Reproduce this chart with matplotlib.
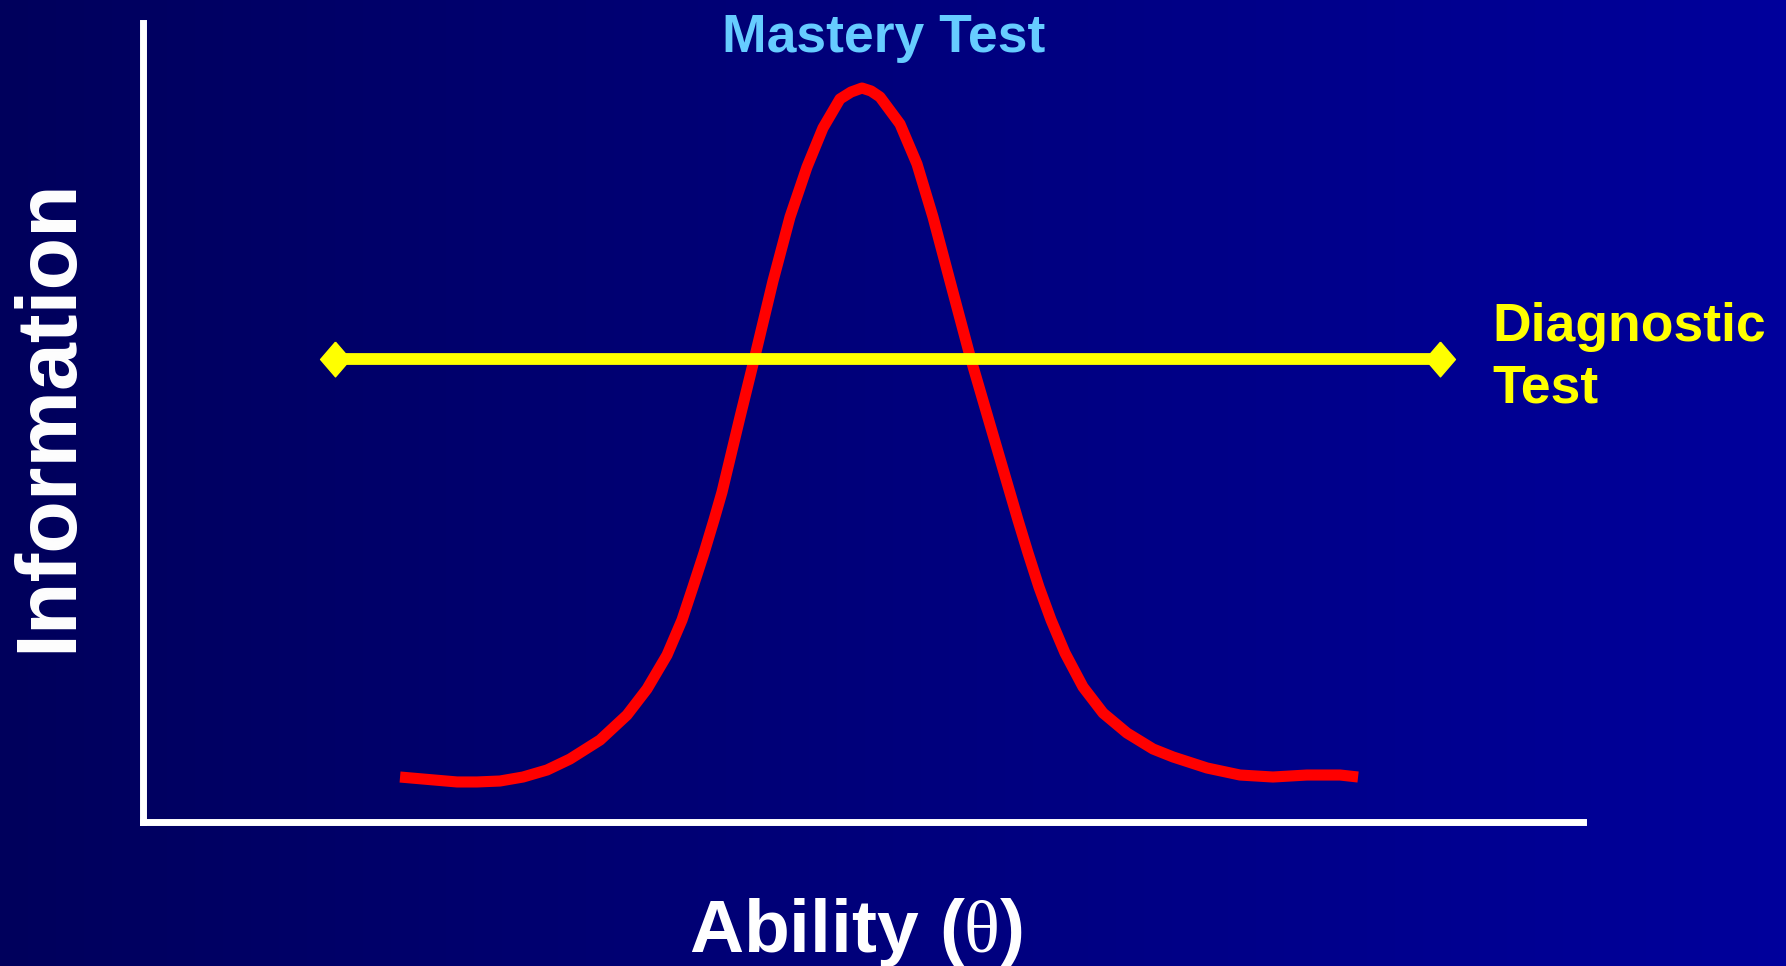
import numpy as np
import matplotlib.pyplot as plt
from matplotlib.colors import LinearSegmentedColormap

plt.rcParams['font.family'] = ['Liberation Sans', 'DejaVu Sans']
plt.rcParams['mathtext.fontset'] = 'custom'
plt.rcParams['mathtext.rm'] = 'Liberation Serif'

# mastery test information curve (ability 0-100, information 0-100)
mastery_x = [17.85, 19.44, 21.81, 23.19, 24.79, 26.39, 28.06, 29.65, 31.74, 33.61,
             35.00, 36.39, 37.43, 38.19, 38.96, 39.65, 40.21, 41.46, 42.50, 43.75,
             44.93, 46.11, 47.22, 48.40, 49.17, 49.93, 50.56, 51.18, 52.57, 53.75,
             54.86, 56.04, 57.43, 58.89, 60.76, 61.46, 62.22, 63.06, 64.03, 65.28,
             66.67, 68.33, 70.14, 71.53, 73.89, 76.18, 78.47, 80.83, 83.13, 84.38]
mastery_y = [5.63, 5.38, 5.01, 5.01, 5.13, 5.63, 6.51, 7.88, 10.26, 13.39,
             16.65, 20.90, 25.28, 29.41, 33.67, 37.80, 41.30, 50.69, 58.32, 67.71,
             75.72, 81.98, 86.86, 90.49, 91.36, 91.86, 91.49, 90.74, 87.36, 82.35,
             75.72, 67.71, 58.32, 49.31, 37.80, 33.67, 29.41, 25.28, 21.15, 16.90,
             13.64, 11.14, 9.14, 8.14, 6.76, 5.88, 5.63, 5.88, 5.88, 5.63]

# diagnostic test: flat information
diag_x = [13.3, 90.1]
diag_y = [57.9, 57.9]

W, H = 1786, 966
fig = plt.figure(figsize=(W / 100, H / 100), dpi=100)

# background gradient
bg = fig.add_axes([0, 0, 1, 1], zorder=0)
cmap = LinearSegmentedColormap.from_list("bg", ["#00005c", "#00009c"])
bg.imshow(np.linspace(0, 1, 256).reshape(1, -1), aspect="auto", cmap=cmap,
          extent=[0, 1, 0, 1])
bg.axis("off")

ax = fig.add_axes([143 / W, 1 - 822 / H, 1440 / W, 799 / H], zorder=1)
ax.patch.set_alpha(0)
ax.set_xlim(0, 100)
ax.set_ylim(0, 100)
for s in ["top", "right"]:
    ax.spines[s].set_visible(False)
for s in ["left", "bottom"]:
    ax.spines[s].set_color("white")
    ax.spines[s].set_linewidth(5)
ax.set_xticks([])
ax.set_yticks([])

ax.plot(mastery_x, mastery_y, color="#ff0000", lw=8, solid_capstyle="butt",
        solid_joinstyle="round", clip_on=False)

diamond = [(0, 1), (0.86, 0), (0, -1), (-0.86, 0), (0, 1)]
ax.plot(diag_x, diag_y, color="#ffff00", lw=8.5, marker=diamond, markersize=25,
        clip_on=False)

fig.text(884 / W, 1 - 52 / H, "Mastery Test", color="#66ccff", fontsize=38.5,
         fontweight="bold", ha="center", va="baseline")
fig.text(1492 / W, 1 - 341 / H, "Diagnostic", color="#ffff00", fontsize=38.5,
         fontweight="bold", ha="left", va="baseline")
fig.text(1492 / W, 1 - 403 / H, "Test", color="#ffff00", fontsize=38.5,
         fontweight="bold", ha="left", va="baseline")
fig.text(856 / W, 1 - 952 / H, r"Ability ($\mathrm{\theta}$)", color="white",
         fontsize=54, fontweight="bold", ha="center", va="baseline")
fig.text(49 / W, 1 - 415 / H, "Information", color="white", fontsize=62,
         fontweight="bold", rotation=90, ha="center", va="center")

fig.savefig("out.png", dpi=100)
